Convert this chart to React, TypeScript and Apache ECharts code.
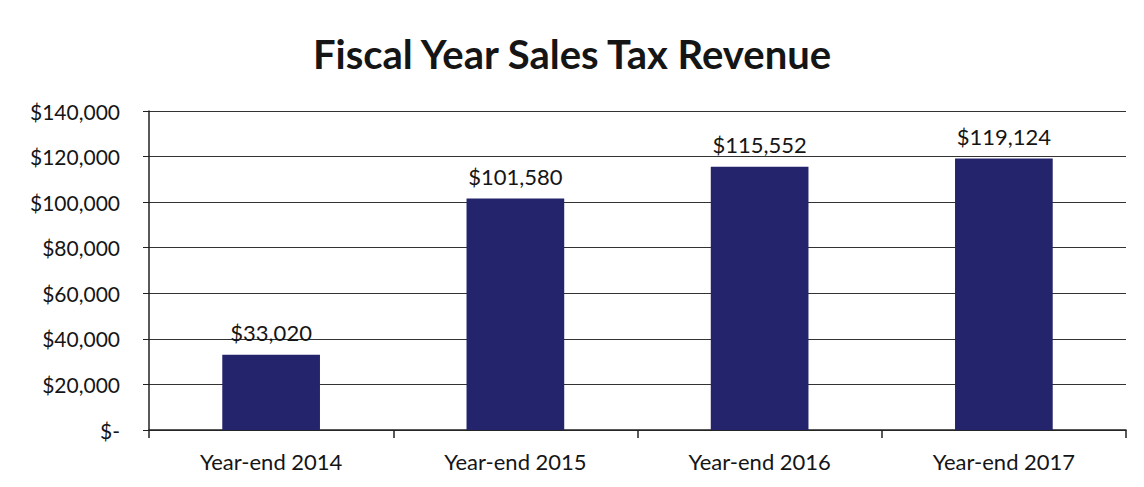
import React, { useEffect, useRef } from "react";
import * as echarts from "echarts";

const categories = ["Year-end 2014", "Year-end 2015", "Year-end 2016", "Year-end 2017"];
const revenue = [33020, 101580, 115552, 119124];
const titleText = "Fiscal Year Sales Tax Revenue";

const fmt = (v: number) => (v === 0 ? "$-" : "$" + v.toLocaleString("en-US"));

export default function App() {
  const ref = useRef<HTMLDivElement>(null);
  useEffect(() => {
    if (!ref.current) return;
    const chart = echarts.init(ref.current, undefined, { renderer: "svg" });
    const font = "Lato, 'Open Sans', sans-serif";
    chart.setOption({
      animation: false,
      backgroundColor: "#ffffff",
      title: {
        text: titleText,
        left: "center",
        top: 29,
        textStyle: { fontFamily: font, fontSize: 40, fontWeight: "bold", color: "#151515" },
      },
      grid: { left: 149, right: 18, top: 111, bottom: 57 },
      xAxis: {
        type: "category",
        data: categories,
        axisLine: { show: true, lineStyle: { color: "#222", width: 1.5 } },
        axisTick: { show: true, length: 8, interval: 0, lineStyle: { color: "#222", width: 1.5 } },
        axisLabel: { fontFamily: font, fontSize: 22, color: "#151515", margin: 20 },
      },
      yAxis: {
        type: "value",
        min: 0,
        max: 140000,
        interval: 20000,
        axisLine: { show: true, lineStyle: { color: "#222", width: 1.5 } },
        axisTick: { show: true, length: 6, lineStyle: { color: "#222" } },
        splitLine: { show: true, lineStyle: { color: "#333", width: 1.2 } },
        axisLabel: { fontFamily: font, fontSize: 21, color: "#151515", margin: 29, formatter: fmt },
      },
      series: [
        {
          type: "bar",
          data: revenue,
          barWidth: "40%",
          itemStyle: { color: "#24246c" },
          label: {
            show: true,
            position: "top",
            distance: 11,
            fontFamily: font,
            fontSize: 22,
            color: "#151515",
            formatter: (p: any) => fmt(p.value),
          },
        },
      ],
    });
    return () => chart.dispose();
  }, []);
  return (
    <div
      ref={ref}
      style={{ position: "absolute", left: 0, top: 0, width: 1144, height: 487 }}
    />
  );
}
